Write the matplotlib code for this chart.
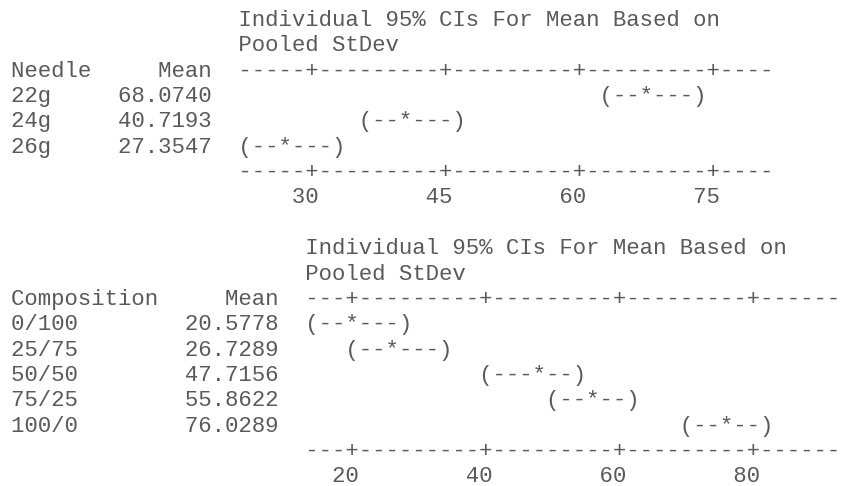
import numpy as np
import matplotlib
matplotlib.use("Agg")
import matplotlib.pyplot as plt

# one-way ANOVA output, needle size
needles = ["22g", "24g", "26g"]
needle_means = [68.0740, 40.7193, 27.3547]
needle_lower = [63.0, 36.0, 22.5]
needle_upper = [73.5, 46.5, 33.0]
needle_ticks = [30, 45, 60, 75]

# one-way ANOVA output, composition
compositions = ["0/100", "25/75", "50/50", "75/25", "100/0"]
comp_means = [20.5778, 26.7289, 47.7156, 55.8622, 76.0289]
comp_lower = [14.0, 20.0, 40.0, 50.0, 70.0]
comp_upper = [28.0, 34.0, 54.0, 62.0, 82.0]
comp_ticks = [20, 40, 60, 80]

title1 = "Individual 95% CIs For Mean Based on"
title2 = "Pooled StDev"

width = 40  # chars in the text chart


def col(v, start, step):
    return int(np.floor((v - start) / step + 0.5))


def axis_line(ticks, start, step):
    row = ["-"] * width
    for t in ticks:
        row[col(t, start, step)] = "+"
    return "".join(row)


def tick_line(ticks, start, step):
    row = [" "] * width
    for t in ticks:
        lab = str(t)
        c = col(t, start, step) - len(lab) + 1
        for k, ch in enumerate(lab):
            row[c + k] = ch
    return "".join(row).rstrip()


def ci_line(m, lo, hi, start, step):
    row = [" "] * width
    a, b = col(lo, start, step), col(hi, start, step)
    for k in range(a, b + 1):
        row[k] = "-"
    row[a] = "("
    row[b] = ")"
    row[col(m, start, step)] = "*"
    return "".join(row).rstrip()


def block(name, groups, means, lower, upper, ticks, start, step, namew):
    pad = " " * (namew + 7 + 2)
    out = [pad + title1, pad + title2]
    out.append(name.ljust(namew + 3) + "Mean" + "  " + axis_line(ticks, start, step))
    for g, m, lo, hi in zip(groups, means, lower, upper):
        out.append(g.ljust(namew) + "%7.4f" % m + "  " + ci_line(m, lo, hi, start, step))
    out.append(pad + axis_line(ticks, start, step))
    out.append(pad + tick_line(ticks, start, step))
    return out


lines = block("Needle", needles, needle_means, needle_lower, needle_upper,
              needle_ticks, 22.5, 1.5, 8)
lines.append("")
lines += block("Composition", compositions, comp_means, comp_lower, comp_upper,
               comp_ticks, 14.0, 2.0, 13)

fig = plt.figure(figsize=(8.41, 4.86), dpi=100)
ax = fig.add_axes([0, 0, 1, 1])
ax.set_xlim(0, 841)
ax.set_ylim(486, 0)
ax.axis("off")

for i, s in enumerate(lines):
    ax.text(11, 26 + i * 25.35, s, family="Liberation Mono", fontsize=16.08,
            color="#5a5a5a", va="baseline", ha="left")

fig.savefig("out.png", dpi=100)
